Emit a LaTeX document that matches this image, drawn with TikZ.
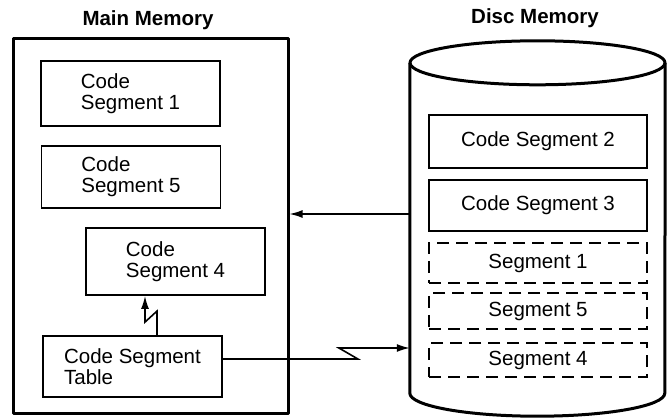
\documentclass[tikz,border=0pt]{standalone}
\usepackage{fontspec}
\setmainfont{Liberation Sans}
\usetikzlibrary{arrows.meta}

\begin{document}
\begin{tikzpicture}[x=1pt,y=-1pt,
  font=\fontsize{20.5}{21}\selectfont,
  >={Latex[length=13pt,width=8pt]},
  seg/.style={draw,line width=1.8pt,inner sep=0pt,align=left,minimum width=179pt},
  dseg/.style={seg,dash pattern=on 12pt off 7pt,minimum width=218pt},
  heavy/.style={line width=3pt,line join=round}]
\useasboundingbox (0,0) rectangle (669,419);

\node (mm) at (148,20) {\bfseries Main Memory};
\node (dm) at (535,18) {\bfseries Disc Memory};

\node (main) [draw,heavy,minimum width=275pt,minimum height=374pt] at (150.5,226) {};
\node (cs1) [seg,minimum height=65pt] at (130.5,93.5) {Code\\Segment 1};
\node (cs5) [seg,minimum height=62pt] at (131,177) {Code\\Segment 5};
\node (cs4) [seg,minimum height=67pt] at (175.5,261.5) {Code\\Segment 4};
\node (tab) [seg,minimum height=61pt] at (132.5,366.5) {Code Segment\\Table};

% disc body
\node (disc) [inner sep=0pt,minimum width=255pt,minimum height=330pt] at (537.5,228) {};
\draw[heavy] (disc.north west) -- (disc.south west)
  arc[start angle=180,end angle=360,x radius=127.5pt,y radius=23pt] -- (disc.north east);
\draw[heavy] (disc.north) ellipse[x radius=127.5pt,y radius=22pt];

\node (cs2) [seg,minimum width=218pt,minimum height=53pt] at (538,141.5) {Code Segment 2};
\node (cs3) [seg,minimum width=218pt,minimum height=51pt] at (538,205.5) {Code Segment 3};
\node (s1) [dseg,minimum height=40pt] at (538,263) {Segment 1};
\node (s5) [dseg,minimum height=36pt] at (538,311) {Segment 5};
\node (s4) [dseg,minimum height=34pt] at (538,360) {Segment 4};

\path[->,line width=1.6pt]
  ([yshift=14pt]disc.west) coordinate (d1) edge (d1 -| main.east);
\draw[->,line width=1.6pt] ([xshift=24.5pt]tab.north) -- ++(0,-24) -- ++(-12,11) coordinate (z1)
  -- (z1 |- cs4.south);
\draw[->,line width=1.6pt] ([yshift=7.5pt]tab.east) -- ++(135,0) -- ++(-19,-11) coordinate (z2)
  -- (z2 -| disc.west);
\end{tikzpicture}
\end{document}
